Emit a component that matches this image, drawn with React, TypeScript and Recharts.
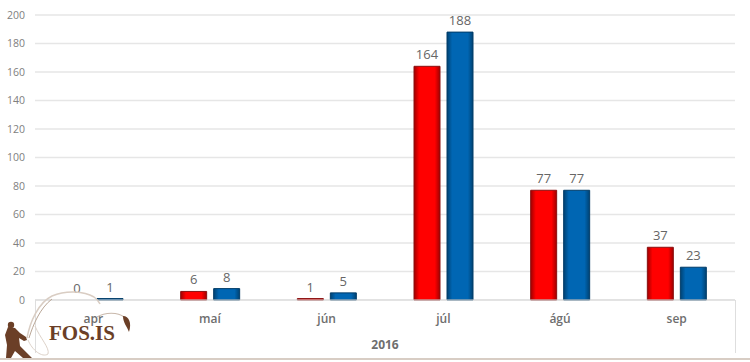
import React from "react";
import { BarChart, Bar, XAxis, YAxis, CartesianGrid, LabelList } from "recharts";

const months = ["apr", "maí", "jún", "júl", "ágú", "sep"];
const redValues = [0, 6, 1, 164, 77, 37];
const blueValues = [1, 8, 5, 188, 77, 23];
const yTicks = [0, 20, 40, 60, 80, 100, 120, 140, 160, 180, 200];
const yearLabel = "2016";
const logoText = "FOS.IS";

const rows = months.map((m, i) => ({ m, red: redValues[i], blue: blueValues[i] }));
const FONT = "'Open Sans', 'Noto Sans', sans-serif";
const BAR_PITCH = 33;

function Logo() {
  const brown = "#6b3f27";
  return (
    <svg width={750} height={362} style={{ position: "absolute", left: 0, top: 0, pointerEvents: "none" }}>
      <path d="M27 338 C30 322 38 303 52 296 C66 290 84 291 94 297 C97 299 99 302 100 304" fill="none" stroke="#d9cdc3" strokeWidth={1.5} />
      <path d="M29 338 C33 325 40 308 52 299" fill="none" stroke="#b9a696" strokeWidth={1} />
      <path d="M28 340 C32 350 42 358 48 354 C50 348 40 338 35 326" fill="none" stroke="#ddd2c9" strokeWidth={1} />
      <path d="M97 317 C105 312 118 312 124 317" fill="none" stroke="#c9b9ac" strokeWidth={1.2} />
      <path d="M123 316 C129 316 132 323 129 332 C127 326 123 323 123 316 Z" fill={brown} />
      <circle cx={11} cy={325} r={3.2} fill={brown} />
      <path d="M8 327 L15 328 L20 333 L26 337 L27 340 L24 341 L19 338 L20 346 L32 358 L23 358 L15 351 L11 358 L6 358 L7 345 L5 335 Z" fill={brown} />
      <text x={49} y={340} fontFamily="'Liberation Serif', serif" fontWeight="bold" fontSize={21} fill={brown}>{logoText}</text>
    </svg>
  );
}

function ValueText({ x, y, value }: { x: number; y: number; value: number }) {
  return (
    <text x={x} y={y} textAnchor="middle" fill="#666666" fontSize={13} fontFamily={FONT}>
      {value}
    </text>
  );
}

function RedLabel(props: any) {
  const { x, y, width, value } = props;
  return <ValueText x={x + width / 2} y={y - 7} value={value} />;
}

// Recharts skips the label of a zero-height bar, so the blue bar beside it draws that one too.
function BlueLabel(props: any) {
  const { x, y, width, height, value, index } = props;
  const cx = x + width / 2;
  const red = redValues[index];
  return (
    <g>
      <ValueText x={cx} y={y - 7} value={value} />
      {red === 0 ? <ValueText x={cx - BAR_PITCH} y={y + height - 7} value={red} /> : null}
    </g>
  );
}

export default function App() {
  return (
    <div style={{ position: "absolute", left: 0, top: 0, width: 750, height: 362, background: "#fff", overflow: "hidden" }}>
      <BarChart
        width={750}
        height={362}
        data={rows}
        margin={{ top: 15, right: 15, bottom: 0, left: 0 }}
        barCategoryGap={29}
        barGap={7}
        barSize={26}
      >
        <defs>
          <linearGradient id="redFill" x1="0" y1="0" x2="1" y2="0">
            <stop offset="0" stopColor="#a00000" />
            <stop offset="0.2" stopColor="#ff0000" />
            <stop offset="0.8" stopColor="#ff0000" />
            <stop offset="1" stopColor="#a00000" />
          </linearGradient>
          <linearGradient id="blueFill" x1="0" y1="0" x2="1" y2="0">
            <stop offset="0" stopColor="#004272" />
            <stop offset="0.2" stopColor="#0066b3" />
            <stop offset="0.8" stopColor="#0066b3" />
            <stop offset="1" stopColor="#004272" />
          </linearGradient>
        </defs>
        <CartesianGrid vertical={false} stroke="#e6e6e6" strokeWidth={1.5} />
        <XAxis
          dataKey="m"
          height={62}
          axisLine={{ stroke: "#d9d9d9" }}
          tickLine={false}
          tickMargin={8}
          tick={{ fill: "#6e6e6e", fontSize: 12, fontWeight: 600, fontFamily: FONT }}
          label={{ value: yearLabel, position: "insideBottom", offset: 13, fill: "#6e6e6e", fontSize: 12, fontWeight: 700, fontFamily: FONT }}
        />
        <YAxis
          width={35}
          domain={[0, 200]}
          ticks={yTicks}
          interval={0}
          axisLine={false}
          tickLine={false}
          tickMargin={4}
          tick={{ fill: "#808080", fontSize: 10.5, fontFamily: FONT }}
        />
        <Bar dataKey="red" fill="url(#redFill)" stroke="#8a1010" strokeWidth={1} isAnimationActive={false}>
          <LabelList dataKey="red" content={RedLabel} />
        </Bar>
        <Bar dataKey="blue" fill="url(#blueFill)" stroke="#003c68" strokeWidth={1} isAnimationActive={false}>
          <LabelList dataKey="blue" content={BlueLabel} />
        </Bar>
      </BarChart>
      <div style={{ position: "absolute", left: 35, top: 300, width: 1, height: 53, background: "#dedede" }} />
      <div style={{ position: "absolute", left: 735, top: 300, width: 1, height: 53, background: "#dedede" }} />
      <div style={{ position: "absolute", left: 0, top: 358, width: 750, height: 2, background: "#d8cdc4" }} />
      <Logo />
    </div>
  );
}
